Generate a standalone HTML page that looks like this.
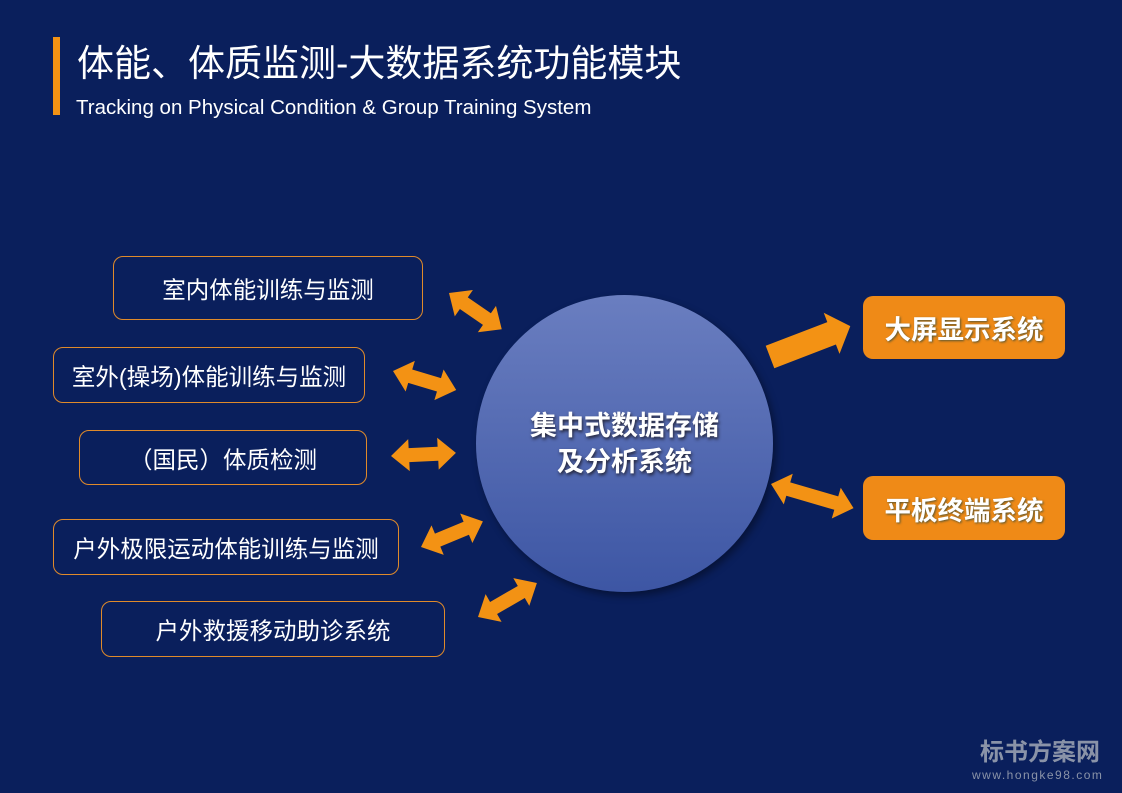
<!DOCTYPE html>
<html><head><meta charset="utf-8"><style>
body{margin:0;width:1122px;height:793px;background:#0a1f5c;position:relative;overflow:hidden;font-family:"Liberation Sans","Noto Sans CJK SC",sans-serif;color:#fff}
.bar{position:absolute;left:53px;top:37px;width:7px;height:78px;background:#f39214}
.t{position:absolute;left:77px;top:42px;font-size:37px;white-space:nowrap;line-height:44px}
.s{position:absolute;left:76px;top:96px;font-size:20.5px;white-space:nowrap}
.b{position:absolute;border:1.5px solid #e08a2a;border-radius:10px;display:flex;align-items:center;justify-content:center;font-size:23.5px;box-sizing:border-box}
.o{position:absolute;background:#ef8a17;border-radius:10px;display:flex;align-items:center;justify-content:center;font-size:26.5px;font-weight:bold;text-shadow:1px 1px 2px #553;box-sizing:border-box}
.c{position:absolute;left:476px;top:295px;width:297px;height:297px;border-radius:50%;background:linear-gradient(#6a7ec0,#3d56a4);box-shadow:3px 4px 8px rgba(0,0,0,.4);display:flex;align-items:center;justify-content:center;text-align:center;font-size:27px;font-weight:bold;line-height:36px;text-shadow:1px 2px 3px #223}
.w{position:absolute;left:980px;top:738px;font-size:24px;font-weight:bold;color:#8a93a8;line-height:30px}
.w2{position:absolute;left:972px;top:768px;font-size:12px;color:#8a93a8;letter-spacing:1.5px;line-height:14px}
</style></head><body>
<div class="bar"></div>
<div class="t">体能、体质监测-大数据系统功能模块</div>
<div class="s">Tracking on Physical Condition &amp; Group Training System</div>
<div class="b" style="left:113px;top:256px;width:310px;height:64px">室内体能训练与监测</div>
<div class="b" style="left:53px;top:347px;width:312px;height:56px">室外(操场)体能训练与监测</div>
<div class="b" style="left:79px;top:430px;width:288px;height:55px">（国民）体质检测</div>
<div class="b" style="left:53px;top:519px;width:346px;height:56px">户外极限运动体能训练与监测</div>
<div class="b" style="left:101px;top:601px;width:344px;height:56px">户外救援移动助诊系统</div>
<div class="o" style="left:863px;top:296px;width:202px;height:63px">大屏显示系统</div>
<div class="o" style="left:863px;top:476px;width:202px;height:64px">平板终端系统</div>
<div class="c">集中式数据存储<br>及分析系统</div>
<svg width="1122" height="793" style="position:absolute;left:0;top:0">
<g fill="#f39214">
<g transform="translate(449,293) rotate(34.5)"><polygon points="0,0 18,-16 18,-7 46,-7 46,-16 64,0 46,16 46,7 18,7 18,16"/></g>
<g transform="translate(393,371) rotate(16.7)"><polygon points="0,0 18,-16 18,-7 48,-7 48,-16 66,0 48,16 48,7 18,7 18,16"/></g>
<g transform="translate(391,456) rotate(-2.8)"><polygon points="0,0 18,-16 18,-7 47,-7 47,-16 65,0 47,16 47,7 18,7 18,16"/></g>
<g transform="translate(421,547) rotate(-22.5)"><polygon points="0,0 18,-16 18,-7 49,-7 49,-16 67,0 49,16 49,7 18,7 18,16"/></g>
<g transform="translate(478,617) rotate(-30)"><polygon points="0,0 18,-16 18,-7 50,-7 50,-16 68,0 50,16 50,7 18,7 18,16"/></g>
<g transform="translate(771,484) rotate(16.3)"><polygon points="0,0 18,-16 18,-7 68,-7 68,-16 86,0 68,16 68,7 18,7 18,16"/></g>
<g transform="translate(770,357) rotate(-21)"><polygon points="0,-12 66,-12 66,-22 86,0 66,22 66,12 0,12"/></g>
</g>
</svg>
<div class="w">标书方案网</div>
<div class="w2">www.hongke98.com</div>
</body></html>
